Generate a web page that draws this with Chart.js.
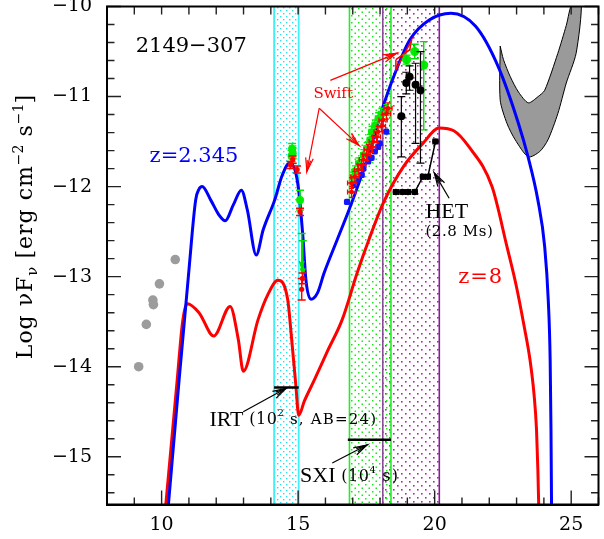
<!DOCTYPE html>
<html>
<head>
<meta charset="utf-8">
<title>2149-307 SED</title>
<script src="https://cdn.jsdelivr.net/npm/chart.js@4.4.1/dist/chart.umd.min.js"></script>
<style>
  html, body { margin: 0; padding: 0; background: #fff; overflow: hidden; }
  canvas { display: block; }
</style>
</head>
<body>
<canvas id="sed" width="604" height="539"></canvas>
<script>
// ---------- data: log10 nu [Hz] vs log10 nuFnu [erg cm^-2 s^-1] ----------
const xLabelValues = [10, 15, 20, 25];
const yLabelValues = [-15, -14, -13, -12, -11, -10];

// jet model at z = 2.345
const modelZ2Nu   = [10.17, 10.255, 10.64, 11.00, 11.246, 11.366, 11.485, 11.80, 12.09, 12.33, 12.63, 12.92, 13.14, 13.465, 13.72, 14.14, 14.41, 14.68, 14.88, 15.02, 15.17, 15.29, 15.47, 15.71, 15.95, 16.43, 16.90, 17.52, 18.12, 18.60, 19.09, 19.80, 20.595, 21.50, 22.33, 23.06, 23.42, 23.78, 24.03, 24.16, 24.23, 24.26, 24.28, 24.29];
const modelZ2Flux = [-15.80, -15.51, -14.15, -12.93, -12.15, -12.03, -12.00, -12.15, -12.31, -12.38, -12.20, -12.04, -12.26, -12.76, -12.48, -12.15, -11.88, -11.74, -11.81, -12.04, -12.54, -13.05, -13.25, -13.18, -12.96, -12.59, -12.23, -11.70, -11.10, -10.70, -10.37, -10.15, -10.075, -10.22, -10.67, -11.29, -11.67, -12.15, -12.67, -13.26, -13.93, -14.70, -15.53, -15.92];

// same source moved to z = 8
const modelZ8Nu   = [10.07, 10.16, 10.57, 10.75, 10.85, 10.94, 11.37, 11.91, 12.51, 12.81, 12.99, 13.53, 13.89, 14.26, 14.62, 14.74, 14.92, 15.02, 15.23, 15.59, 16.07, 16.61, 17.16, 17.59, 18.12, 18.85, 19.57, 20.17, 20.70, 21.26, 22.10, 22.65, 22.98, 23.27, 23.49, 23.64, 23.73, 23.78, 23.81, 23.83];
const modelZ8Flux = [-15.80, -15.51, -14.15, -13.55, -13.36, -13.30, -13.40, -13.66, -13.33, -13.70, -14.05, -13.48, -13.20, -13.04, -13.26, -13.62, -14.22, -14.54, -14.38, -14.15, -13.83, -13.48, -12.96, -12.59, -12.18, -11.78, -11.52, -11.35, -11.38, -11.56, -12.00, -12.67, -13.09, -13.54, -13.92, -14.31, -14.70, -15.15, -15.53, -15.92];

// gamma-ray bow-tie (upper edge then lower edge)
const gammaNu   = [22.40, 22.40, 22.65, 22.95, 23.43, 23.85, 24.15, 24.51, 24.82, 25.18, 25.37, 25.05, 24.82, 24.51, 24.03, 23.79, 23.43, 23.07, 22.77, 22.52, 22.40];
const gammaFlux = [-10.44, -11.04, -11.30, -11.48, -11.67, -11.61, -11.48, -11.19, -10.85, -10.52, -9.95, -9.95, -10.21, -10.52, -10.93, -11.00, -11.07, -10.95, -10.78, -10.59, -10.44];

// radio / mm photometry
const radioNu   = [9.16, 9.44, 9.68, 9.70, 9.92, 10.50];
const radioFlux = [-14.00, -13.53, -13.26, -13.31, -13.08, -12.81];

// optical/UV, green epoch
const optGreenNu   = [14.78, 14.80, 14.76, 15.07];
const optGreenFlux = [-11.58, -11.63, -11.66, -12.15];
const optGreenErr  = [0.06, 0.06, 0.06, 0.11];
// optical/UV, red epoch
const optRedNu   = [14.80, 14.72, 14.96, 15.07, 15.16, 15.13];
const optRedFlux = [-11.70, -11.76, -11.81, -12.28, -13.02, -13.14];
const optRedErr  = [0.04, 0.04, 0.04, 0.04, 0.06, 0.12];
// UV upper limits
const uvLimNu   = [15.13, 15.17];
const uvLimFlux = [-12.52, -12.60];

// X-ray spectra
const xBlueNu   = [16.79, 17.03, 17.15, 17.33, 17.39, 17.57, 17.69, 17.81, 17.93, 17.99, 18.23];
const xBlueFlux = [-12.17, -11.98, -11.93, -11.87, -11.80, -11.72, -11.68, -11.61, -11.56, -11.52, -11.39];
const xRedNu    = [16.96, 16.96, 17.08, 17.21, 17.33, 17.39, 17.51, 17.57, 17.69, 17.75, 17.87, 17.93, 18.05, 18.11, 18.23, 18.29];
const xRedFlux  = [-12.06, -11.96, -11.89, -11.81, -11.76, -11.70, -11.65, -11.59, -11.56, -11.50, -11.45, -11.39, -11.33, -11.26, -11.19, -11.13];
const xGreenNu   = [17.00, 17.08, 17.21, 17.39, 17.51, 17.63, 17.69, 17.81, 17.93, 18.05, 18.23];
const xGreenFlux = [-11.90, -11.83, -11.74, -11.65, -11.57, -11.48, -11.39, -11.32, -11.24, -11.19, -11.15];

// hard X-ray points
const hxGreenNu    = [18.97, 19.27, 19.60];
const hxGreenFlux  = [-10.59, -10.50, -10.65];
const hxGreenErrLo = [0.05, 0.08, 0.72];
const hxGreenErrHi = [0.05, 0.08, 0.26];
const hxBlackNu    = [18.78, 18.96, 19.08, 19.30, 19.48];
const hxBlackFlux  = [-11.22, -10.85, -10.78, -10.87, -10.93];
const hxBlackErrLo = [0.45, 0.12, 0.15, 0.65, 0.81];
const hxBlackErrHi = [0.22, 0.12, 0.12, 0.24, 0.43];

// BAT bow-tie corners
const batNu   = [18.58, 19.09, 19.15, 18.58, 18.58];
const batFlux = [-10.59, -10.48, -10.38, -10.70, -10.59];

// HET sensitivity curve (2.8 Ms)
const hetNu   = [18.58, 18.82, 19.02, 19.27, 19.57, 19.75, 20.03];
const hetFlux = [-12.06, -12.06, -12.06, -12.06, -11.89, -11.89, -11.50];

// instrument bands and flux limits
const bandIRT = [14.12, 15.02];
const bandSXI = [16.88, 18.40];
const bandHET = [18.10, 20.17];
const irtLimitNu = [14.12, 15.02], irtLimitFlux = -14.23;
const sxiLimitNu = [16.82, 18.40], sxiLimitFlux = -14.81;

// axis extent and tick spacing
const xRange = [8, 26], yRange = [-15.53, -10];
const yMinorStep = 0.2;

// ---------- helpers ----------
const cnv = document.getElementById('sed');
const pts = (xs, ys) => xs.map((x, i) => ({ x, y: ys[i] }));

function dotPattern(ctx, color, w, h, spots, s) {
  const c = document.createElement('canvas');
  c.width = w; c.height = h;
  const g = c.getContext('2d');
  g.fillStyle = color;
  spots.forEach(([a, b]) => g.fillRect(a, b, s, s));
  return ctx.createPattern(c, 'repeat');
}

const bandSpecs = [
  { range: bandHET, color: '#a030a8', tile: [8, 8, [[1, 1], [5, 5]], 1.6], edges: ['#8a4a98', '#8a1a9a'], lw: 1.6 },
  { range: bandSXI, color: '#18e818', tile: [7, 7, [[1, 1], [4.5, 4.5]], 1.5], edges: ['#20f020', '#20f020'], lw: 1.6 },
  { range: bandIRT, color: '#30dce8', tile: [6, 6, [[1, 1], [4, 4]], 1.4], edges: ['#40f0f8', '#40f0f8'], lw: 1.8 }
];

// inward tick marks on all four sides plus the frame
function drawFrame(ctx, a, x, y) {
  ctx.save();
  ctx.setLineDash([]);
  ctx.globalAlpha = 1;
  ctx.globalCompositeOperation = 'source-over';
  ctx.strokeStyle = '#222';
  ctx.lineWidth = 1.4;
  ctx.beginPath();
  for (let v = xRange[0]; v <= xRange[1]; v++) {
    const px = x.getPixelForValue(v);
    const major = v % 5 === 0;
    ctx.moveTo(px, a.bottom); ctx.lineTo(px, a.bottom - (major ? 14 : 7));
    ctx.moveTo(px, a.top); ctx.lineTo(px, a.top + 8);
  }
  const n = Math.floor((yRange[1] - yRange[0]) / yMinorStep + 1e-6);
  for (let k = 0; k <= n; k++) {
    const py = y.getPixelForValue(yRange[1] - k * yMinorStep);
    const len = k % 5 === 0 ? 14 : 7.5;
    ctx.moveTo(a.left, py); ctx.lineTo(a.left + len, py);
    ctx.moveTo(a.right, py); ctx.lineTo(a.right - len, py);
  }
  ctx.stroke();
  ctx.strokeStyle = '#000';
  ctx.lineWidth = 2;
  ctx.strokeRect(a.left, a.top, a.right - a.left, a.bottom - a.top);
  ctx.restore();
}

const bandsPlugin = {
  id: 'bands',
  beforeDatasetsDraw(chart) {
    const { ctx, chartArea: a, scales: { x } } = chart;
    ctx.save();
    ctx.beginPath(); ctx.rect(a.left, a.top, a.right - a.left, a.bottom - a.top); ctx.clip();
    bandSpecs.forEach(b => {
      const x1 = x.getPixelForValue(b.range[0]), x2 = x.getPixelForValue(b.range[1]);
      ctx.fillStyle = dotPattern(ctx, b.color, ...b.tile);
      ctx.fillRect(x1, a.top, x2 - x1, a.bottom - a.top);
    });
    bandSpecs.forEach(b => {
      ctx.lineWidth = b.lw;
      b.range.forEach((v, k) => {
        const px = x.getPixelForValue(v);
        ctx.strokeStyle = b.edges[k];
        ctx.beginPath(); ctx.moveTo(px, a.top); ctx.lineTo(px, a.bottom); ctx.stroke();
      });
    });
    ctx.restore();
  }
};

function arrowHead(ctx, x0, y0, x1, y1, len, spread) {
  const ang = Math.atan2(y1 - y0, x1 - x0);
  ctx.beginPath();
  ctx.moveTo(x1 - len * Math.cos(ang - spread), y1 - len * Math.sin(ang - spread));
  ctx.lineTo(x1, y1);
  ctx.lineTo(x1 - len * Math.cos(ang + spread), y1 - len * Math.sin(ang + spread));
  ctx.stroke();
  ctx.beginPath();
  ctx.moveTo(x1 - 0.8 * len * Math.cos(ang - spread * 0.55), y1 - 0.8 * len * Math.sin(ang - spread * 0.55));
  ctx.lineTo(x1, y1);
  ctx.lineTo(x1 - 0.8 * len * Math.cos(ang + spread * 0.55), y1 - 0.8 * len * Math.sin(ang + spread * 0.55));
  ctx.stroke();
}

// error bars, caps and upper-limit arrows for point datasets
const errorBars = {
  id: 'errorBars',
  afterDatasetDraw(chart, args) {
    const ds = chart.data.datasets[args.index];
    if (!ds.yErrLo && !ds.xErr && !ds.upperLimit) return;
    const { ctx, chartArea: a, scales: { x, y } } = chart;
    ctx.save();
    ctx.beginPath(); ctx.rect(a.left, a.top, a.right - a.left, a.bottom - a.top); ctx.clip();
    ctx.strokeStyle = ds.errColor;
    ctx.lineWidth = ds.errWidth || 1.3;
    const cap = ds.cap || 3;
    ds.data.forEach((p, i) => {
      const px = x.getPixelForValue(p.x), py = y.getPixelForValue(p.y);
      if (ds.yErrLo) {
        const yl = y.getPixelForValue(p.y - ds.yErrLo[i]), yh = y.getPixelForValue(p.y + ds.yErrHi[i]);
        ctx.beginPath();
        ctx.moveTo(px, yl); ctx.lineTo(px, yh);
        ctx.moveTo(px - cap, yl); ctx.lineTo(px + cap, yl);
        ctx.moveTo(px - cap, yh); ctx.lineTo(px + cap, yh);
        ctx.stroke();
      }
      if (ds.xErr) {
        const xl = x.getPixelForValue(p.x - ds.xErr[i]), xh = x.getPixelForValue(p.x + ds.xErr[i]);
        ctx.beginPath();
        ctx.moveTo(xl, py); ctx.lineTo(xh, py);
        ctx.moveTo(xl, py - cap); ctx.lineTo(xl, py + cap);
        ctx.moveTo(xh, py - cap); ctx.lineTo(xh, py + cap);
        ctx.stroke();
      }
      if (ds.upperLimit) {
        const yEnd = y.getPixelForValue(p.y - ds.upperLimit);
        ctx.beginPath();
        ctx.moveTo(px - cap, py); ctx.lineTo(px + cap, py);
        ctx.moveTo(px, py); ctx.lineTo(px, yEnd);
        ctx.stroke();
        arrowHead(ctx, px, py, px, yEnd, 7, 0.35);
      }
    });
    ctx.restore();
  }
};

const FONT = '"DejaVu Serif", serif';
const TIMES = '"Liberation Serif", serif';

function drawRich(ctx, parts, x, y) {
  let cx = x;
  parts.forEach(([t, size, dy, fam, sp]) => {
    ctx.font = size + 'px ' + (fam || FONT);
    ctx.letterSpacing = (sp || 0) + 'px';
    ctx.fillText(t, cx, y + (dy || 0));
    cx += ctx.measureText(t).width;
  });
  ctx.letterSpacing = '0px';
}
function richWidth(ctx, parts) {
  let w = 0;
  parts.forEach(([t, size, dy, fam, sp]) => {
    ctx.font = size + 'px ' + (fam || FONT);
    ctx.letterSpacing = (sp || 0) + 'px';
    w += ctx.measureText(t).width;
  });
  ctx.letterSpacing = '0px';
  return w;
}

// text labels and pointer arrows, placed in data coordinates
const textLabels = [
  { parts: [['2149\u2212307', 21]], at: [9.05, -10.44], color: '#000' },
  { parts: [['z=2.345', 21]], at: [9.56, -11.67], color: '#0000ff' },
  { parts: [['z=8', 21, 0, FONT, 1]], at: [20.86, -13.01], color: '#ff0000' },
  { parts: [['Swift', 15]], at: [15.56, -10.97], color: '#ff0000' },
  { parts: [['HET', 22, 0, TIMES]], at: [19.66, -12.28], color: '#000' },
  { parts: [['(2.8 Ms)', 15, 0, FONT, 0.6]], at: [19.66, -12.50], color: '#000' },
  { parts: [['IRT', 22, 0, TIMES], [' (10', 16, 0, FONT, 0.6], ['2', 10, -6], [' s, AB=24)', 15, 0, FONT, 1.2]], at: [11.75, -14.59], color: '#000' },
  { parts: [['SXI', 22, 0, TIMES], [' (10', 16, 0, FONT, 0.6], ['4', 10, -6], [' s)', 16, 0, FONT, 1.2]], at: [15.07, -15.22], color: '#000' }
];
const pointers = [
  { from: [12.99, -14.50], to: [14.56, -14.24], color: '#000' },
  { from: [16.25, -15.07], to: [17.52, -14.87], color: '#000' },
  { from: [20.53, -12.13], to: [19.99, -11.85], color: '#000' },
  { from: [15.77, -11.13], to: [15.32, -11.83], color: '#ff0000' },
  { from: [15.77, -11.13], to: [17.22, -11.54], color: '#ff0000' },
  { from: [16.18, -10.82], to: [18.60, -10.52], color: '#ff0000' }
];

const annotations = {
  id: 'annotations',
  afterDatasetsDraw(chart) {
    const { ctx, chartArea: a, scales: { x, y } } = chart;
    let problem = '';
    try { drawFrame(ctx, a, x, y); } catch (e) { problem = 'frame: ' + e.message; }
    ctx.save();
    ctx.textBaseline = 'middle';
    ctx.textAlign = 'left';
    textLabels.forEach(l => {
      ctx.fillStyle = l.color;
      drawRich(ctx, l.parts, x.getPixelForValue(l.at[0]), y.getPixelForValue(l.at[1]));
    });
    ctx.lineWidth = 1.2;
    pointers.forEach(p => {
      const x0 = x.getPixelForValue(p.from[0]), y0 = y.getPixelForValue(p.from[1]);
      const x1 = x.getPixelForValue(p.to[0]), y1 = y.getPixelForValue(p.to[1]);
      ctx.strokeStyle = p.color;
      ctx.beginPath(); ctx.moveTo(x0, y0); ctx.lineTo(x1, y1); ctx.stroke();
      arrowHead(ctx, x0, y0, x1, y1, 14, 0.28);
    });
    ctx.restore();

    // y-axis title
    ctx.save();
    const title = [['Log \u03BDF', 22, 0, FONT, 1], ['\u03BD', 15, 5], [' [erg cm', 22, 0, FONT, 1], ['\u22122', 14, -9], [' s', 22, 0, FONT, 1], ['\u22121', 14, -9], [']', 22]];
    ctx.fillStyle = '#000';
    ctx.textBaseline = 'alphabetic';
    ctx.textAlign = 'left';
    ctx.translate(32, y.getPixelForValue(-12.45));
    ctx.rotate(-Math.PI / 2);
    drawRich(ctx, title, -richWidth(ctx, title) / 2, 0);
    ctx.restore();

    if (problem) {
      ctx.save(); ctx.fillStyle = '#c00'; ctx.font = '10px sans-serif';
      ctx.fillText(problem, 110, 535); ctx.restore();
    }
  }
};

// ---------- chart ----------
const curve = (data, color) => ({
  data, showLine: true, borderColor: color, borderWidth: 3, pointRadius: 0,
  cubicInterpolationMode: 'monotone', fill: false, order: 50
});
const hline = (nu, f) => ({
  data: [{ x: nu[0], y: f }, { x: nu[1], y: f }], showLine: true,
  borderColor: '#000', borderWidth: 2.5, pointRadius: 0, order: 40
});

new Chart(cnv, {
  type: 'scatter',
  data: {
    datasets: [
      { data: pts(gammaNu, gammaFlux), showLine: true, borderColor: '#000', borderWidth: 1,
        backgroundColor: '#9a9a9a', fill: 'shape', tension: 0.25, pointRadius: 0, order: 60, clip: 0 },
      curve(pts(modelZ2Nu, modelZ2Flux), '#0000ff'),
      curve(pts(modelZ8Nu, modelZ8Flux), '#ff0000'),
      hline(irtLimitNu, irtLimitFlux),
      hline(sxiLimitNu, sxiLimitFlux),
      { data: pts(batNu, batFlux), showLine: true, borderColor: '#ff0000', borderWidth: 1.5,
        pointRadius: 0, fill: false, order: 20 },
      { data: pts(radioNu, radioFlux), pointRadius: 4.8, backgroundColor: '#9c9c9c', borderWidth: 0, order: 30 },
      { data: pts(xBlueNu, xBlueFlux), pointRadius: 3.6, pointStyle: 'rectRounded', backgroundColor: '#1414ff',
        borderColor: '#1414ff', borderWidth: 0, order: 16 },
      { data: pts(xRedNu, xRedFlux), pointRadius: 2.2, backgroundColor: '#ff0000', borderWidth: 0, order: 14,
        errColor: '#ff0000', cap: 2.5, errWidth: 1.3,
        xErr: xRedNu.map(() => 0.15), yErrLo: xRedNu.map(() => 0.06), yErrHi: xRedNu.map(() => 0.06) },
      { data: pts(xGreenNu, xGreenFlux), pointRadius: 3.5, backgroundColor: '#00ee00', borderWidth: 0, order: 15,
        errColor: '#00ee00', cap: 3, errWidth: 1.3,
        xErr: xGreenNu.map(() => 0.1), yErrLo: xGreenNu.map(() => 0.06), yErrHi: xGreenNu.map(() => 0.06) },
      { data: pts(optGreenNu, optGreenFlux), pointRadius: 4, backgroundColor: '#00ee00', borderWidth: 0, order: 13,
        errColor: '#00ee00', cap: 4, errWidth: 1.5, yErrLo: optGreenErr, yErrHi: optGreenErr },
      { data: pts(optRedNu, optRedFlux), pointRadius: 2.6, backgroundColor: '#ff0000', borderWidth: 0, order: 12,
        errColor: '#ff0000', cap: 4, errWidth: 1.5, yErrLo: optRedErr, yErrHi: optRedErr },
      { data: pts(uvLimNu, uvLimFlux), pointRadius: 0, order: 12, errColor: '#00dd00', cap: 4, errWidth: 1.5,
        upperLimit: 0.38 },
      { data: pts(hxGreenNu, hxGreenFlux), pointRadius: 4.5, backgroundColor: '#00ee00', borderWidth: 0, order: 11,
        errColor: '#00dd00', cap: 4, errWidth: 1.4, yErrLo: hxGreenErrLo, yErrHi: hxGreenErrHi },
      { data: pts(hxBlackNu, hxBlackFlux), pointRadius: 4, backgroundColor: '#000', borderWidth: 0, order: 10,
        errColor: '#000', cap: 4, errWidth: 1.2, yErrLo: hxBlackErrLo, yErrHi: hxBlackErrHi },
      { data: pts(hetNu, hetFlux), showLine: true, borderColor: '#000', borderWidth: 1.5, pointRadius: 2.5,
        backgroundColor: '#000', order: 10, errColor: '#000', cap: 3, errWidth: 1.3,
        xErr: hetNu.map(() => 0.09) }
    ]
  },
  options: {
    responsive: false,
    animation: false,
    devicePixelRatio: 1,
    events: [],
    layout: { padding: { top: 6.5, right: -5, left: 0, bottom: 0 } },
    plugins: { legend: { display: false }, tooltip: { enabled: false } },
    scales: {
      x: {
        type: 'linear', min: xRange[0], max: xRange[1],
        grid: { display: false, drawTicks: false },
        border: { display: true, color: '#000', width: 2 },
        ticks: {
          stepSize: 1, autoSkip: false, maxRotation: 0, padding: 9, color: '#000',
          font: { family: 'DejaVu Serif', size: 19 },
          callback: v => (xLabelValues.includes(v) ? String(v) : '')
        },
        afterFit: s => { s.height = 34.5; s.paddingLeft = 0; s.paddingRight = 0; }
      },
      y: {
        type: 'linear', min: yRange[0], max: yRange[1],
        grid: { display: false, drawTicks: false },
        border: { display: true, color: '#000', width: 2 },
        ticks: {
          stepSize: yMinorStep, autoSkip: false, padding: 15, color: '#000',
          font: { family: 'DejaVu Serif', size: 19 },
          callback: v => {
            const r = Math.round(v);
            return (Math.abs(v - r) < 1e-6 && yLabelValues.includes(r)) ? '\u2212' + Math.abs(r) : '';
          }
        },
        afterFit: s => { s.width = 107; s.paddingTop = 0; s.paddingBottom = 0; }
      }
    }
  },
  plugins: [bandsPlugin, errorBars, annotations]
});
</script>
</body>
</html>
